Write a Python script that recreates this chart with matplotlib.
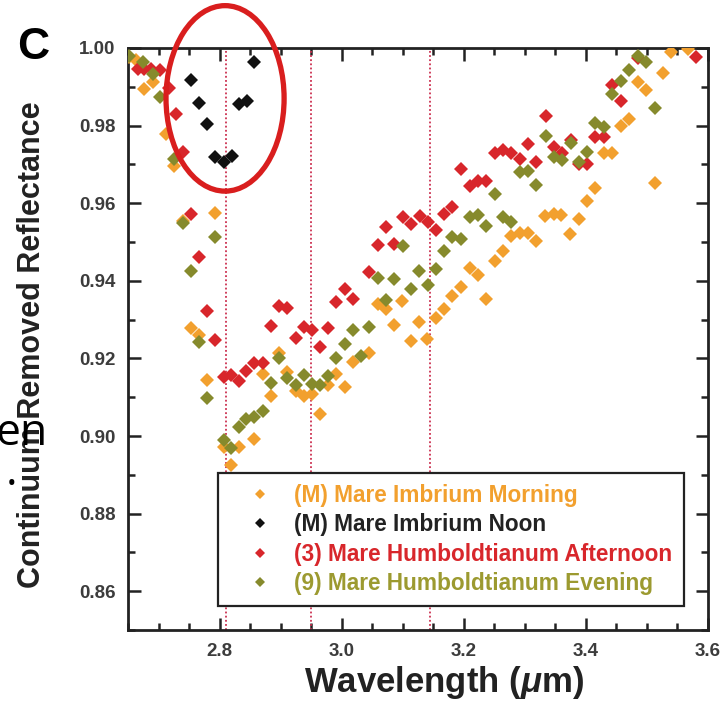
import numpy as np
import matplotlib
matplotlib.use("Agg")
import matplotlib.pyplot as plt
from matplotlib.patches import Ellipse
from matplotlib.lines import Line2D
from matplotlib.ticker import MultipleLocator, FormatStrFormatter

plt.rcParams['font.family'] = ['Liberation Sans', 'DejaVu Sans']
plt.rcParams['mathtext.fontset'] = 'custom'
plt.rcParams['mathtext.it'] = 'Liberation Sans:bold:italic'
plt.rcParams['mathtext.rm'] = 'Liberation Sans:bold'

# (M) Mare Imbrium Morning
wl_morning = [2.651, 2.663, 2.677, 2.691, 2.713, 2.726, 2.740, 2.754, 2.766, 2.779,
              2.793, 2.807, 2.818, 2.832, 2.857, 2.871, 2.885, 2.897, 2.911, 2.925,
              2.938, 2.952, 2.964, 2.978, 2.991, 3.005, 3.018, 3.045, 3.059, 3.073,
              3.086, 3.099, 3.113, 3.127, 3.140, 3.154, 3.168, 3.181, 3.196, 3.210,
              3.223, 3.237, 3.251, 3.264, 3.278, 3.292, 3.305, 3.319, 3.333, 3.347,
              3.360, 3.374, 3.389, 3.401, 3.415, 3.429, 3.443, 3.457, 3.471, 3.486,
              3.499, 3.513, 3.526, 3.540, 3.568]
cr_morning = [0.9977, 0.9969, 0.9893, 0.9913, 0.9779, 0.9697, 0.9555, 0.9279, 0.9259, 0.9145,
              0.9575, 0.8971, 0.8925, 0.8971, 0.8993, 0.9160, 0.9102, 0.9214, 0.9165, 0.9117,
              0.9102, 0.9108, 0.9056, 0.9132, 0.9160, 0.9125, 0.9191, 0.9214, 0.9339, 0.9326,
              0.9286, 0.9349, 0.9244, 0.9295, 0.9251, 0.9305, 0.9327, 0.9361, 0.9383, 0.9434,
              0.9416, 0.9352, 0.9451, 0.9478, 0.9516, 0.9522, 0.9522, 0.9503, 0.9567, 0.9573,
              0.9569, 0.9520, 0.9559, 0.9605, 0.9640, 0.9729, 0.9729, 0.9798, 0.9817, 0.9913,
              0.9892, 0.9652, 0.9936, 0.9990, 0.9998]

# (M) Mare Imbrium Noon
wl_noon = [2.754, 2.766, 2.779, 2.793, 2.807, 2.820, 2.832, 2.845, 2.857]
cr_noon = [0.9917, 0.9858, 0.9805, 0.9720, 0.9705, 0.9722, 0.9855, 0.9862, 0.9965]

# (3) Mare Humboldtianum Afternoon
wl_afternoon = [2.666, 2.677, 2.688, 2.702, 2.718, 2.729, 2.740, 2.754, 2.766, 2.779,
                2.793, 2.807, 2.819, 2.832, 2.844, 2.857, 2.871, 2.885, 2.897, 2.911,
                2.925, 2.938, 2.952, 2.964, 2.978, 2.991, 3.005, 3.018, 3.045, 3.059,
                3.073, 3.086, 3.100, 3.114, 3.128, 3.141, 3.155, 3.168, 3.181, 3.196,
                3.210, 3.223, 3.237, 3.251, 3.264, 3.278, 3.292, 3.305, 3.319, 3.334,
                3.347, 3.361, 3.375, 3.388, 3.402, 3.415, 3.429, 3.443, 3.457, 3.486,
                3.581]
cr_afternoon = [0.9947, 0.9945, 0.9945, 0.9943, 0.9898, 0.9831, 0.9732, 0.9572, 0.9462, 0.9322,
                0.9247, 0.9151, 0.9156, 0.9143, 0.9167, 0.9187, 0.9187, 0.9283, 0.9335, 0.9331,
                0.9253, 0.9281, 0.9272, 0.9229, 0.9279, 0.9345, 0.9380, 0.9352, 0.9423, 0.9492,
                0.9538, 0.9496, 0.9565, 0.9546, 0.9566, 0.9551, 0.9530, 0.9572, 0.9591, 0.9688,
                0.9643, 0.9658, 0.9657, 0.9728, 0.9737, 0.9728, 0.9715, 0.9752, 0.9707, 0.9824,
                0.9746, 0.9728, 0.9762, 0.9702, 0.9702, 0.9771, 0.9771, 0.9904, 0.9864, 0.9975,
                0.9976]

# (9) Mare Humboldtianum Evening
wl_evening = [2.651, 2.674, 2.691, 2.702, 2.726, 2.740, 2.754, 2.766, 2.779, 2.793,
              2.807, 2.819, 2.832, 2.844, 2.857, 2.871, 2.885, 2.897, 2.911, 2.925,
              2.938, 2.952, 2.964, 2.978, 2.991, 3.005, 3.018, 3.031, 3.045, 3.059,
              3.073, 3.086, 3.100, 3.114, 3.127, 3.141, 3.154, 3.168, 3.181, 3.196,
              3.210, 3.223, 3.237, 3.251, 3.264, 3.278, 3.292, 3.305, 3.319, 3.334,
              3.347, 3.361, 3.375, 3.388, 3.401, 3.415, 3.429, 3.443, 3.457, 3.471,
              3.486, 3.499, 3.513]
cr_evening = [0.9980, 0.9965, 0.9933, 0.9874, 0.9715, 0.9548, 0.9424, 0.9243, 0.9099, 0.9512,
              0.8990, 0.8968, 0.9022, 0.9044, 0.9048, 0.9065, 0.9137, 0.9201, 0.9149, 0.9132,
              0.9156, 0.9135, 0.9132, 0.9154, 0.9201, 0.9238, 0.9272, 0.9206, 0.9281, 0.9407,
              0.9350, 0.9404, 0.9490, 0.9380, 0.9424, 0.9389, 0.9431, 0.9477, 0.9513, 0.9508,
              0.9564, 0.9570, 0.9540, 0.9623, 0.9565, 0.9551, 0.9680, 0.9684, 0.9647, 0.9772,
              0.9718, 0.9711, 0.9754, 0.9706, 0.9733, 0.9807, 0.9795, 0.9882, 0.9915, 0.9943,
              0.9978, 0.9965, 0.9844]

labels = ['(M) Mare Imbrium Morning', '(M) Mare Imbrium Noon',
          '(3) Mare Humboldtianum Afternoon', '(9) Mare Humboldtianum Evening']
colors = ['#f2a02e', '#111111', '#d8262b', '#868a2c']
text_colors = ['#f2a02e', '#222222', '#d8262b', '#9c9a30']
band_lines = [2.81, 2.95, 3.145]

fig = plt.figure(figsize=(7.21, 7.03), dpi=100)
ax = fig.add_axes([0.1775, 0.1038, 0.8045, 0.828])

series = [(wl_morning, cr_morning), (wl_noon, cr_noon),
          (wl_afternoon, cr_afternoon), (wl_evening, cr_evening)]
for (wl, cr), c in zip(series, colors):
    ax.plot(wl, cr, linestyle='none', marker='D', markersize=7.3,
            markerfacecolor=c, markeredgewidth=0, zorder=3)

for xv in band_lines:
    ax.axvline(xv, color='#cc3050', linestyle=(0, (1, 1.3)), linewidth=1.3, zorder=2)

ax.set_xlim(2.65, 3.6)
ax.set_ylim(0.85, 1.00)
ax.xaxis.set_major_locator(MultipleLocator(0.2))
ax.xaxis.set_minor_locator(MultipleLocator(0.05))
ax.yaxis.set_major_locator(MultipleLocator(0.02))
ax.yaxis.set_minor_locator(MultipleLocator(0.01))
ax.xaxis.set_major_formatter(FormatStrFormatter('%.1f'))
ax.yaxis.set_major_formatter(FormatStrFormatter('%.2f'))
ax.tick_params(which='both', direction='in', top=True, right=True, width=1.8,
               colors='#222222')
ax.tick_params(which='major', length=9, labelsize=13.5, labelcolor='#3c3c3c', pad=9)
ax.tick_params(which='minor', length=5)
for lab in ax.get_xticklabels() + ax.get_yticklabels():
    lab.set_fontweight('bold')
for sp in ax.spines.values():
    sp.set_linewidth(2.0)
    sp.set_color('#222222')

ax.set_xlabel(r'Wavelength ($\mu$m)', fontsize=25, fontweight='bold', color='#222222')
ax.xaxis.set_label_coords(0.545, -0.058)
ax.set_ylabel('Continuum Removed Reflectance', fontsize=22, fontweight='bold',
              color='#222222')
ax.yaxis.set_label_coords(-0.14, 0.49)

handles = [Line2D([], [], linestyle='none', marker='D', markersize=5,
                  markerfacecolor=c, markeredgewidth=0) for c in colors]
leg = ax.legend(handles, labels, loc='lower left', bbox_to_anchor=(0.155, 0.041),
                borderaxespad=0, fancybox=False, framealpha=1, edgecolor='#222222',
                prop={'size': 16.3, 'weight': 'bold'}, handletextpad=0.15,
                labelspacing=0.27, borderpad=0.51, handlelength=2.7)
leg.get_frame().set_linewidth(1.6)
for t, c in zip(leg.get_texts(), text_colors):
    t.set_color(c)
leg.set_zorder(5)

# highlight ring round the noon dip
ax.add_patch(Ellipse((2.809, 0.9870), 0.1934, 0.0478, fill=False,
                     edgecolor='#d91e1e', linewidth=3.8, clip_on=False, zorder=6))

fig.text(0.046, 0.932, 'C', fontsize=32, fontweight='bold', ha='center', va='center')
fig.text(-0.006, 0.367, 'en', fontsize=32, family='Open Sans', ha='left',
         va='baseline', zorder=10)
fig.text(0.008, 0.31, '.', fontsize=32, family='Open Sans', ha='left',
         va='baseline', zorder=10)

fig.savefig('out.png', dpi=100)
